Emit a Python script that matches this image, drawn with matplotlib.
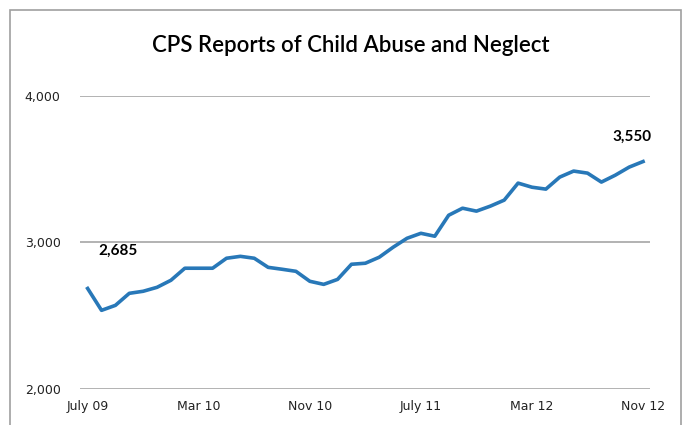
import matplotlib
matplotlib.use("Agg")
import matplotlib.pyplot as plt
from matplotlib.patches import Rectangle

# monthly reports, July 09 .. Nov 12
reports = [2685, 2536, 2570, 2652, 2666, 2693, 2741, 2823, 2823, 2823,
           2891, 2904, 2891, 2829, 2816, 2802, 2734, 2713, 2747, 2850,
           2857, 2898, 2966, 3027, 3061, 3041, 3184, 3232, 3212, 3246,
           3287, 3403, 3375, 3362, 3444, 3485, 3471, 3410, 3457, 3512,
           3550]
tick_idx = [0, 8, 16, 24, 32, 40]
tick_labels = ["July 09", "Mar 10", "Nov 10", "July 11", "Mar 12", "Nov 12"]
y_ticks = [2000, 3000, 4000]
y_labels = ["2,000", "3,000", "4,000"]

fig = plt.figure(figsize=(6.89, 4.25), dpi=100)
fig.patches.append(Rectangle((10 / 689, -0.05), 671 / 689, 1 - 10 / 425 + 0.05,
                             transform=fig.transFigure, fill=False,
                             edgecolor="#a0a0a0", linewidth=1.2))

ax = fig.add_axes([80 / 689, 1 - 389 / 425, 570 / 689, (389 - 95.5) / 425])
x = list(range(len(reports)))
ax.plot(x, reports, color="#2878b8", linewidth=2.6, solid_joinstyle="round")

ax.set_xlim(-0.55, 40.5)
ax.set_ylim(2000, 4000)
ax.set_yticks(y_ticks)
ax.set_yticklabels(y_labels, fontsize=9, color="#222222")
ax.set_xticks(tick_idx)
ax.set_xticklabels(tick_labels, fontsize=9, color="#222222")
ax.tick_params(length=0, pad=14, axis="y")
ax.tick_params(length=0, pad=8, axis="x")
for s in ax.spines.values():
    s.set_visible(False)
ax.grid(axis="y", color="#a6a6a6", linewidth=1.2)
ax.set_axisbelow(True)

ax.annotate("{:,}".format(reports[0]), (x[0], reports[0]), xytext=(8, 27),
            textcoords="offset points", fontsize=11, fontweight="bold",
            family="Lato", ha="left", va="center")
ax.annotate("{:,}".format(reports[-1]), (x[-1], reports[-1]), xytext=(-8, 18),
            textcoords="offset points", fontsize=11, fontweight="bold",
            family="Lato", ha="center", va="center")

fig.text(351 / 689, 1 - 45 / 425, "CPS Reports of Child Abuse and Neglect",
         fontsize=16, family="Lato", fontweight="semibold",
         ha="center", va="center")

fig.savefig("out.png", dpi=100)
